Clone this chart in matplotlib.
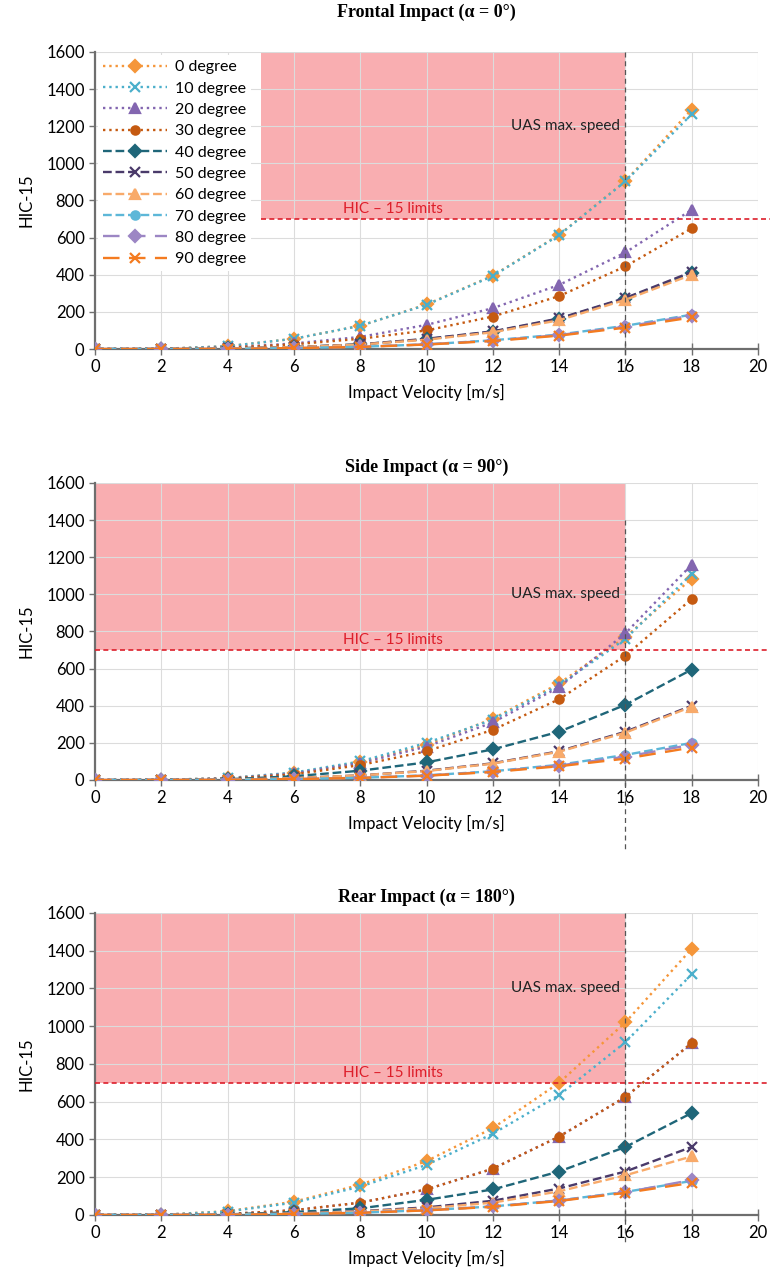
import numpy as np
import matplotlib
matplotlib.use("Agg")
import matplotlib.pyplot as plt

plt.rcParams['font.family'] = ['Lato', 'DejaVu Sans']

velocity = [0, 2, 4, 6, 8, 10, 12, 14, 16, 18]
angles = ["0 degree", "10 degree", "20 degree", "30 degree", "40 degree",
          "50 degree", "60 degree", "70 degree", "80 degree", "90 degree"]

# HIC-15 values, one list per angle
frontal = [
    [0, 1, 15, 55, 125, 240, 395, 615, 905, 1290],
    [0, 1, 15, 55, 125, 238, 393, 613, 903, 1265],
    [0, 1, 8, 30, 65, 130, 220, 345, 520, 750],
    [0, 1, 7, 25, 55, 100, 175, 285, 445, 650],
    [0, 0, 3, 10, 25, 53, 93, 162, 272, 410],
    [0, 0, 3, 10, 25, 55, 95, 165, 275, 415],
    [0, 0, 3, 10, 24, 50, 90, 155, 265, 400],
    [0, 0, 1, 5, 12, 25, 47, 78, 125, 185],
    [0, 0, 1, 5, 12, 25, 45, 75, 120, 180],
    [0, 0, 1, 5, 11, 24, 43, 72, 115, 170],
]
side = [
    [0, 1, 10, 38, 95, 190, 330, 520, 770, 1085],
    [0, 1, 10, 40, 100, 200, 325, 510, 760, 1110],
    [0, 1, 8, 35, 90, 180, 310, 500, 790, 1160],
    [0, 1, 7, 30, 80, 155, 270, 435, 670, 975],
    [0, 0, 4, 20, 50, 95, 165, 260, 405, 595],
    [0, 0, 2, 10, 25, 50, 90, 155, 260, 400],
    [0, 0, 2, 10, 25, 48, 88, 152, 255, 395],
    [0, 0, 1, 5, 12, 25, 47, 82, 135, 200],
    [0, 0, 1, 5, 12, 24, 45, 78, 125, 190],
    [0, 0, 1, 5, 11, 23, 43, 74, 115, 175],
]
rear = [
    [0, 1, 20, 70, 160, 285, 460, 700, 1020, 1410],
    [0, 1, 18, 65, 150, 265, 430, 635, 915, 1275],
    [0, 1, 5, 25, 65, 135, 245, 415, 625, 910],
    [0, 1, 5, 25, 65, 135, 245, 415, 625, 910],
    [0, 0, 3, 15, 35, 80, 135, 230, 360, 540],
    [0, 0, 2, 8, 20, 40, 75, 140, 230, 360],
    [0, 0, 2, 8, 18, 35, 65, 125, 210, 310],
    [0, 0, 1, 5, 12, 25, 45, 77, 122, 180],
    [0, 0, 1, 5, 12, 25, 45, 76, 120, 185],
    [0, 0, 1, 5, 11, 24, 43, 74, 117, 170],
]

colors = ['#F5963A', '#4BAFCB', '#8366B0', '#C55A11', '#1F6679',
          '#4A3A6A', '#F8AA6A', '#5DB7D8', '#9C86C4', '#F47B20']
markers = ['D', 'x', '^', 'o', 'D', 'x', '^', 'o', 'D', 'x']
styles = [':', ':', ':', ':', '--', '--', '--', '--', (0, (7, 4)), (0, (7, 4))]

panels = [
    ("Frontal Impact (α = 0°)", frontal, [0.7267, 0.2326], 1200, -120, 1600, 25),
    ("Side Impact (α = 90°)", side, [0.3892, 0.2326], 1000, -380, 1400, 8),
    ("Rear Impact (α = 180°)", rear, [0.0486, 0.2365], 1200, -150, 1600, 8),
]

shade = '#F9AEB1'
limit_red = '#DD1F2B'

fig = plt.figure(figsize=(7.7, 12.77), dpi=100)

for idx, (title, data, (bot, h), uas_y, vlow, vtop, tpad) in enumerate(panels):
    ax = fig.add_axes([0.1234, bot, 0.8610, h])
    x0 = 5 if idx == 0 else 0
    ax.fill_between([x0, 16], 700, 1600, color=shade, lw=0, zorder=0)
    ax.grid(True, color='#DCDCDC', lw=0.8, zorder=0.5)
    ax.set_axisbelow(True)

    for j, name in enumerate(angles):
        ms = 6 if markers[j] in ('D', 'o') else 7
        ax.plot(velocity, data[j], color=colors[j], ls=styles[j], lw=1.7,
                marker=markers[j], ms=ms, mew=1.6, label=name, zorder=3)

    ax.plot([x0, 20.35], [700, 700], color=limit_red, ls=(0, (3, 2)), lw=1.2,
            clip_on=False, zorder=4)
    ax.text(9.0, 715, "HIC – 15 limits", color=limit_red, fontsize=11,
            ha='center', va='bottom', zorder=4)
    ax.plot([16, 16], [vtop, vlow], color='#555555', ls=(0, (4, 3)), lw=0.9,
            clip_on=False, zorder=4)
    ax.text(15.85, uas_y, "UAS max. speed", color='#222222', fontsize=11,
            ha='right', va='center', zorder=4)

    ax.set_xlim(0, 20)
    ax.set_ylim(0, 1600)
    ax.set_xticks(np.arange(0, 21, 2))
    ax.set_yticks(np.arange(0, 1601, 200))
    ax.tick_params(labelsize=12, color='#707070', length=4, width=1)
    ax.tick_params(axis='x', direction='inout', length=8)
    for s in ('top', 'right'):
        ax.spines[s].set_visible(False)
    for s in ('left', 'bottom'):
        ax.spines[s].set_color('#6E6E6E')
        ax.spines[s].set_linewidth(1.6)
    ax.set_xlabel("Impact Velocity [m/s]", fontsize=12, labelpad=6)
    ax.set_ylabel("HIC-15", fontsize=12, labelpad=8)
    ax.set_title(title, fontsize=13, fontweight='bold',
                 family=['Liberation Serif', 'DejaVu Serif'], pad=tpad)

    if idx == 0:
        leg = ax.legend(loc='upper left', fontsize=11.5, handlelength=4.0,
                        frameon=True, fancybox=False, borderaxespad=0.2,
                        labelspacing=0.45, borderpad=0.3, handletextpad=0.5)
        leg.get_frame().set_facecolor('white')
        leg.get_frame().set_edgecolor('none')
        leg.get_frame().set_alpha(1)
        leg.set_zorder(5)

fig.savefig("out.png", dpi=100)
